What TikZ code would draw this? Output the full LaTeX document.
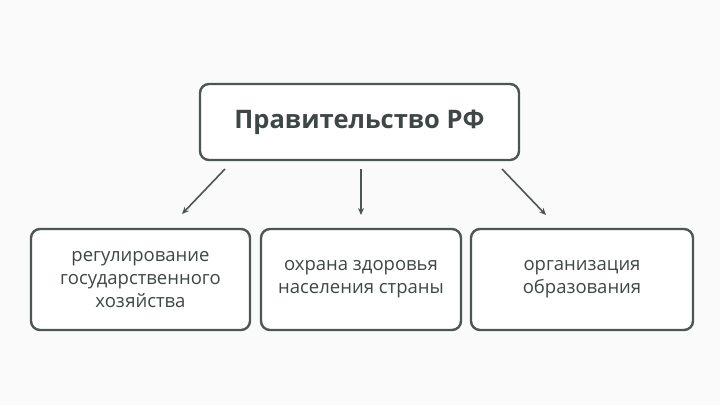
\documentclass[tikz,border=0pt]{standalone}
\usepackage{fontspec}
\setmainfont{Open Sans}
\definecolor{edge}{HTML}{4D5654}
\definecolor{txt}{HTML}{3F4746}
\tikzset{
  box/.style={draw=edge,line width=2.4pt,rounded corners=9pt,fill=white,text=txt,align=center,inner sep=0pt},
  arr/.style={draw=edge,line width=1.6pt,-{Stealth[length=7pt,width=6pt]}}
}
\usetikzlibrary{arrows.meta}
\begin{document}
\begin{tikzpicture}[x=1pt,y=-1pt]
\fill[gray!4] (0,0) rectangle (720,405);
\useasboundingbox (0,0) rectangle (720,405);
\node[box,minimum width=319pt,minimum height=76pt,font=\bfseries\fontsize{25.5}{30}\selectfont] (top) at (359.5,122) {Правительство РФ};
\node[box,minimum width=219pt,minimum height=101pt,font=\fontsize{18.5}{23}\selectfont] (b1) at (140.5,279.5) {регулирование\\государственного\\хозяйства};
\node[box,minimum width=200pt,minimum height=101pt,font=\fontsize{18.5}{23}\selectfont] (b2) at (361,279.5) {охрана здоровья\\населения страны};
\node[box,minimum width=222pt,minimum height=101pt,font=\fontsize{18.5}{23}\selectfont] (b3) at (582,279.5) {организация\\образования};
\coordinate (s1) at (225,169); \coordinate (e1) at (182,214);
\coordinate (s2) at (361,169); \coordinate (e2) at (361,215);
\coordinate (s3) at (502,169); \coordinate (e3) at (546,215);
\draw[arr] (s1) -- (e1);
\draw[arr] (s2) -- (e2);
\draw[arr] (s3) -- (e3);
\end{tikzpicture}
\end{document}
